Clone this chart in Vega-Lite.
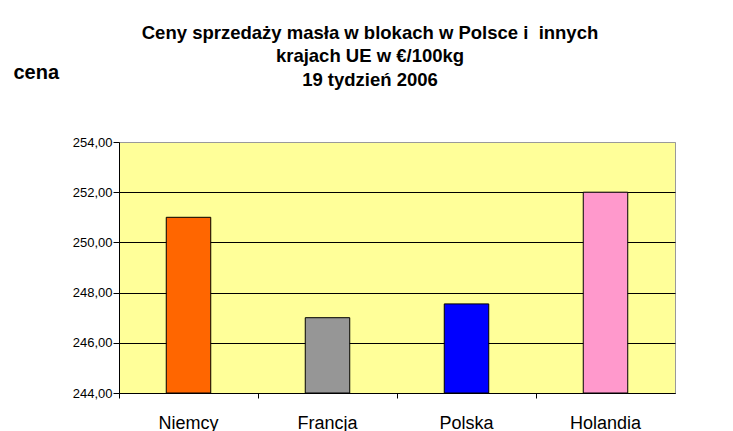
{
 "$schema": "https://vega.github.io/schema/vega-lite/v6.json",
 "width": 556, "height": 251,
 "autosize": {"type": "none"},
 "padding": {"left": 119, "top": 142, "right": 58, "bottom": 38},
 "background": "white",
 "title": {"text": ["Ceny sprzedaży masła w blokach w Polsce i \u00a0innych", "krajach UE w €/100kg", "19 tydzień 2006"], "fontSize": 18.5, "font": "Liberation Sans", "fontWeight": "bold", "lineHeight": 23.5, "anchor": "middle", "frame": "group", "dx": -27, "dy": 27, "offset": 0, "color": "black"},
 "data": {"values": [
  {"kraj": "Niemcy", "cena": 251.0},
  {"kraj": "Francja", "cena": 247.0},
  {"kraj": "Polska", "cena": 247.55},
  {"kraj": "Holandia", "cena": 252.0}
 ]},
 "mark": {"type": "bar", "width": {"band": 0.32}, "stroke": "black", "strokeWidth": 1},
 "encoding": {
  "x": {"field": "kraj", "type": "nominal", "sort": null, "scale": {"paddingInner": 0, "paddingOuter": 0},
   "axis": {"title": null, "labelAngle": 0, "bandPosition": 0, "tickSize": 5, "labelPadding": 30, "labelBaseline": "alphabetic", "labelFontSize": 18, "labelFont": "Liberation Sans", "labelColor": "black", "domainColor": "black", "tickColor": "black", "grid": false}},
  "y": {"field": "cena", "type": "quantitative", "scale": {"domain": [244, 254], "zero": false, "nice": false},
   "axis": {"title": "cena", "titleAngle": 0, "titleX": -106, "titleY": -64, "titleAlign": "left", "titleBaseline": "alphabetic", "titleFontSize": 20, "titleFont": "Liberation Sans", "titleFontWeight": "bold", "titleColor": "black",
    "values": [244, 246, 248, 250, 252, 254], "labelExpr": "replace(format(datum.value,'.2f'),'.',',')", "labelFontSize": 13, "labelFont": "Liberation Sans", "labelColor": "black", "tickSize": 6, "tickColor": "black", "domainColor": "black", "labelPadding": 1,
    "grid": true, "gridColor": {"condition": {"test": "datum.value == 254", "value": "#9a9a9a"}, "value": "black"}, "gridOpacity": 1}},
  "y2": {"datum": 244},
  "color": {"field": "kraj", "type": "nominal", "scale": {"domain": ["Niemcy", "Francja", "Polska", "Holandia"], "range": ["#FF6600", "#969696", "#0000FF", "#FF99CC"]}, "legend": null}
 },
 "config": {"view": {"fill": "#FFFF99", "stroke": "#9a9a9a", "strokeWidth": 1}}
}
